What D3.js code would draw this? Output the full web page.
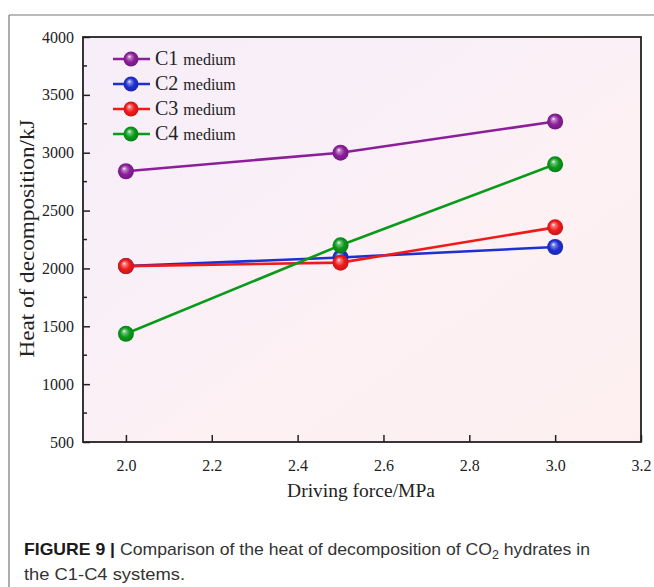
<!DOCTYPE html>
<html>
<head>
<meta charset="utf-8">
<script src="https://cdnjs.cloudflare.com/ajax/libs/d3/7.8.5/d3.min.js"></script>
<style>
  body { margin: 0; background: #fff; }
  svg text.serif { font-family: "Liberation Serif", "Times New Roman", serif; fill: #222; }
  svg text.caption { font-family: "Liberation Sans Narrow", "Liberation Sans", Arial, sans-serif; fill: #333; }
</style>
</head>
<body>
<script>
var W = 654, H = 587;
var mLeft = 83, mRight = 641, mTop = 37, mBottom = 442;

var drivingForce = [2.0, 2.5, 3.0];
var seriesNames = ["C1", "C2", "C3", "C4"];
var c1Values = [2840, 3000, 3270];
var c2Values = [2020, 2095, 2185];
var c3Values = [2020, 2050, 2355];
var c4Values = [1435, 2200, 2900];
var seriesColors = ["#8b1f9a", "#1f2fd0", "#f01a1a", "#0a9a1a"];
var xTicks = [2.0, 2.2, 2.4, 2.6, 2.8, 3.0, 3.2];
var yTicks = [500, 1000, 1500, 2000, 2500, 3000, 3500, 4000];

function display() {
    var series = [c1Values, c2Values, c3Values, c4Values].map(function(v, i) {
        return {name: seriesNames[i], color: seriesColors[i], values: v};
    });

    var svg = d3.select("body").append("svg")
        .attr("width", W)
        .attr("height", H);

    var defs = svg.append("defs");

    var bg = defs.append("linearGradient")
        .attr("id", "bg")
        .attr("x1", "0").attr("y1", "0").attr("x2", "1").attr("y2", "1");
    bg.append("stop").attr("offset", "0").attr("stop-color", "#f6eef8");
    bg.append("stop").attr("offset", "0.35").attr("stop-color", "#f9eff7");
    bg.append("stop").attr("offset", "0.6").attr("stop-color", "#fdf1f4");
    bg.append("stop").attr("offset", "1").attr("stop-color", "#fdeff0");

    series.forEach(function(s, i) {
        var g = defs.append("radialGradient")
            .attr("id", "ball" + i)
            .attr("cx", "0.5").attr("cy", "0.5").attr("r", "0.55")
            .attr("fx", "0.38").attr("fy", "0.32");
        g.append("stop").attr("offset", "0").attr("stop-color", "#ffffff");
        g.append("stop").attr("offset", "0.18").attr("stop-color", d3.interpolateRgb("#fff", s.color)(0.55));
        g.append("stop").attr("offset", "0.55").attr("stop-color", s.color);
        g.append("stop").attr("offset", "1").attr("stop-color", d3.color(s.color).darker(0.6));
    });

    // figure frame
    svg.append("line").attr("x1", 9).attr("y1", 15).attr("x2", W).attr("y2", 15)
        .attr("stroke", "#777").attr("stroke-width", 1.2);
    svg.append("line").attr("x1", 9).attr("y1", 15).attr("x2", 9).attr("y2", H)
        .attr("stroke", "#777").attr("stroke-width", 1.2);

    var x = d3.scaleLinear().domain([1.9, 3.2]).range([mLeft, mRight]);
    var y = d3.scaleLinear().domain([500, 4000]).range([mBottom, mTop]);

    svg.append("rect")
        .attr("x", mLeft).attr("y", mTop)
        .attr("width", mRight - mLeft).attr("height", mBottom - mTop)
        .attr("fill", "url(#bg)");

    // x axis ticks (inward)
    var xAxis = d3.axisBottom(x).tickValues(xTicks)
        .tickSizeInner(-7).tickSizeOuter(0).tickPadding(18)
        .tickFormat(d3.format(".1f"));
    var gx = svg.append("g").attr("transform", "translate(0," + mBottom + ")").call(xAxis);
    gx.select(".domain").remove();
    gx.selectAll("line").attr("stroke", "#222").attr("stroke-width", 1.5);
    gx.selectAll("text").attr("class", "serif")
        .style("font-size", "16px").style("font-family", "'Liberation Serif', serif").style("fill", "#222");

    // y axis
    var yAxis = d3.axisLeft(y).tickValues(yTicks)
        .tickSizeInner(-7).tickSizeOuter(0).tickPadding(9)
        .tickFormat(d3.format("d"));
    var gy = svg.append("g").attr("transform", "translate(" + mLeft + ",0)").call(yAxis);
    gy.select(".domain").remove();
    gy.selectAll("line").attr("stroke", "#222").attr("stroke-width", 1.5);
    gy.selectAll("text").attr("class", "serif")
        .style("font-size", "16px").style("font-family", "'Liberation Serif', serif").style("fill", "#222");

    var minorY = d3.range(750, 4000, 500);
    svg.append("g").selectAll("line")
        .data(minorY).enter().append("line")
        .attr("x1", mLeft).attr("x2", mLeft + 4)
        .attr("y1", function(d) { return y(d); })
        .attr("y2", function(d) { return y(d); })
        .attr("stroke", "#222").attr("stroke-width", 1.5);

    // plot frame
    svg.append("rect")
        .attr("x", mLeft).attr("y", mTop)
        .attr("width", mRight - mLeft).attr("height", mBottom - mTop)
        .attr("fill", "none").attr("stroke", "#222").attr("stroke-width", 1.8);

    var line = d3.line()
        .x(function(d, i) { return x(drivingForce[i]); })
        .y(function(d) { return y(d); });

    series.forEach(function(s, si) {
        var g = svg.append("g");
        g.append("path")
            .datum(s.values)
            .attr("d", line)
            .attr("fill", "none")
            .attr("stroke", s.color)
            .attr("stroke-width", 2.6);
        g.selectAll("circle")
            .data(s.values).enter().append("circle")
            .attr("cx", function(d, i) { return x(drivingForce[i]); })
            .attr("cy", function(d) { return y(d); })
            .attr("r", 8)
            .attr("fill", "url(#ball" + si + ")");
    });

    // legend
    var legend = svg.append("g");
    series.forEach(function(s, i) {
        var ly = 59 + i * 25;
        legend.append("line")
            .attr("x1", 113).attr("x2", 150).attr("y1", ly).attr("y2", ly)
            .attr("stroke", s.color).attr("stroke-width", 2.6);
        legend.append("circle")
            .attr("cx", 131).attr("cy", ly).attr("r", 7.5)
            .attr("fill", "url(#ball" + i + ")");
        var t = legend.append("text").attr("class", "serif").attr("x", 155).attr("y", ly + 6);
        t.append("tspan").style("font-size", "20px").text(s.name);
        t.append("tspan").style("font-size", "16px").attr("dx", 5).text("medium");
    });

    // axis titles
    svg.append("text").attr("class", "serif")
        .attr("x", (mLeft + mRight) / 2 - 1).attr("y", 497)
        .attr("text-anchor", "middle").style("font-size", "19.5px")
        .text("Driving force/MPa");
    svg.append("text").attr("class", "serif")
        .attr("transform", "translate(34," + ((mTop + mBottom) / 2 - 1) + ") rotate(-90)")
        .attr("text-anchor", "middle").style("font-size", "20.5px")
        .attr("textLength", 238).attr("lengthAdjust", "spacingAndGlyphs")
        .text("Heat of decomposition/kJ");

    // caption
    var cap = svg.append("text").attr("class", "caption")
        .attr("x", 24).attr("y", 555).style("font-size", "17px")
        .attr("textLength", 566).attr("lengthAdjust", "spacingAndGlyphs");
    cap.append("tspan").attr("font-weight", "bold").style("fill", "#1a1a1a").text("FIGURE 9 | ");
    cap.append("tspan").text("Comparison of the heat of decomposition of CO");
    cap.append("tspan").style("font-size", "12px").attr("dy", 4).text("2");
    cap.append("tspan").attr("dy", -4).text(" hydrates in");
    svg.append("text").attr("class", "caption")
        .attr("x", 24).attr("y", 580).style("font-size", "17px")
        .attr("textLength", 161).attr("lengthAdjust", "spacingAndGlyphs")
        .text("the C1-C4 systems.");
}

document.addEventListener("DOMContentLoaded", function() {
    display();
});
</script>
</body>
</html>
